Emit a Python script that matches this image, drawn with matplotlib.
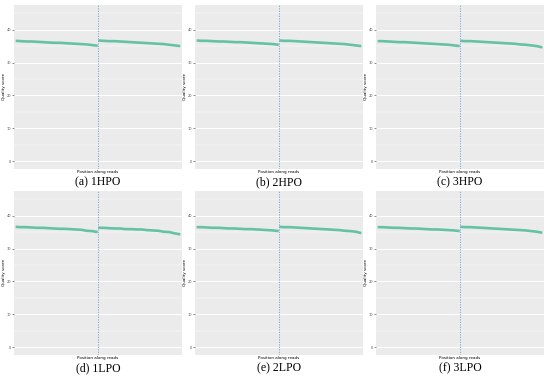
import numpy as np
import matplotlib
matplotlib.use("Agg")
import matplotlib.pyplot as plt

# panel captions
captions = ["(a) 1HPO", "(b) 2HPO", "(c) 3HPO", "(d) 1LPO", "(e) 2LPO", "(f) 3LPO"]

# sampled base positions within one read
read_pos = [1, 10, 20, 30, 40, 50, 60, 70, 80, 90, 100, 110, 120, 130, 140, 150]
read_len = 150

# mean quality along read 1 / read 2
read1 = {
    "1HPO": [36.6, 36.5, 36.4, 36.4, 36.3, 36.2, 36.1, 36.0, 36.0, 35.9, 35.8, 35.7, 35.6, 35.5, 35.3, 35.1],
    "2HPO": [36.7, 36.6, 36.6, 36.5, 36.4, 36.4, 36.3, 36.2, 36.2, 36.1, 36.0, 35.9, 35.8, 35.7, 35.6, 35.4],
    "3HPO": [36.5, 36.5, 36.4, 36.3, 36.2, 36.2, 36.1, 36.0, 35.9, 35.8, 35.7, 35.6, 35.5, 35.4, 35.2, 35.0],
    "1LPO": [36.6, 36.5, 36.5, 36.4, 36.3, 36.3, 36.2, 36.1, 36.0, 36.0, 35.9, 35.8, 35.7, 35.4, 35.3, 35.0],
    "2LPO": [36.5, 36.5, 36.4, 36.3, 36.3, 36.2, 36.1, 36.1, 36.0, 35.9, 35.9, 35.8, 35.7, 35.6, 35.5, 35.3],
    "3LPO": [36.5, 36.5, 36.4, 36.3, 36.3, 36.2, 36.1, 36.1, 36.0, 35.9, 35.8, 35.8, 35.7, 35.6, 35.5, 35.3],
}
read2 = {
    "1HPO": [36.7, 36.6, 36.5, 36.5, 36.4, 36.3, 36.2, 36.1, 36.0, 35.9, 35.8, 35.7, 35.6, 35.4, 35.2, 35.0],
    "2HPO": [36.7, 36.6, 36.6, 36.5, 36.4, 36.3, 36.2, 36.1, 36.0, 35.9, 35.8, 35.7, 35.6, 35.4, 35.2, 35.0],
    "3HPO": [36.6, 36.5, 36.5, 36.4, 36.3, 36.2, 36.1, 36.0, 35.9, 35.8, 35.7, 35.5, 35.4, 35.2, 35.0, 34.6],
    "1LPO": [36.3, 36.3, 36.2, 36.1, 36.1, 35.9, 35.9, 35.8, 35.8, 35.6, 35.5, 35.4, 35.1, 35.0, 34.6, 34.3],
    "2LPO": [36.6, 36.5, 36.5, 36.4, 36.3, 36.2, 36.1, 36.0, 35.9, 35.8, 35.7, 35.6, 35.4, 35.3, 35.1, 34.7],
    "3LPO": [36.6, 36.5, 36.5, 36.4, 36.3, 36.2, 36.1, 36.0, 35.9, 35.8, 35.7, 35.6, 35.5, 35.3, 35.1, 34.8],
}
y_ticks = [0, 10, 20, 30, 40]

W, H = 550, 377
fig = plt.figure(figsize=(W / 100, H / 100), dpi=100)

lefts = [14, 195, 376]
tops = [5, 191]
pw, ph = 168, 164

for i, cap in enumerate(captions):
    key = cap.split()[1]
    r, c = divmod(i, 3)
    x0, y0 = lefts[c], tops[r]
    ax = fig.add_axes([x0 / W, 1 - (y0 + ph) / H, pw / W, ph / H])
    ax.set_facecolor("#EBEBEB")
    for s in ax.spines.values():
        s.set_visible(False)

    x1 = np.array(read_pos)
    x2 = x1 + read_len
    ax.plot(x1, read1[key], color="#66C2A5", lw=1.9, solid_capstyle="butt")
    ax.plot(x2, read2[key], color="#66C2A5", lw=1.9, solid_capstyle="butt")
    ax.axvline(read_len + 0.5, color="#6FA3D8", lw=0.6, ls=(0, (1.5, 1.5)))

    ax.set_xlim(-2, 2 * read_len + 3)
    ax.set_ylim(-2.4, 47.5)
    ax.set_yticks(y_ticks)
    ax.set_yticks([5, 15, 25, 35, 45], minor=True)
    ax.set_yticklabels([str(t) for t in y_ticks], fontsize=2.5, color="#4D4D4D")
    ax.tick_params(axis="y", which="major", length=1.5, width=0.4, color="#333333", pad=0.5)
    ax.tick_params(axis="y", which="minor", length=0)
    ax.set_xticks([])
    ax.grid(axis="y", which="major", color="white", lw=0.7)
    ax.grid(axis="y", which="minor", color="white", lw=0.35)
    ax.set_axisbelow(True)
    ax.set_ylabel("Quality score", fontsize=3, labelpad=0.5)
    ax.set_xlabel("Position along reads", fontsize=3, labelpad=1)

    fig.text((x0 + pw / 2) / W, 1 - (y0 + ph + 13) / H, cap,
             ha="center", va="center", fontsize=8.5, family="Liberation Serif")

fig.savefig("out.png", dpi=100)
